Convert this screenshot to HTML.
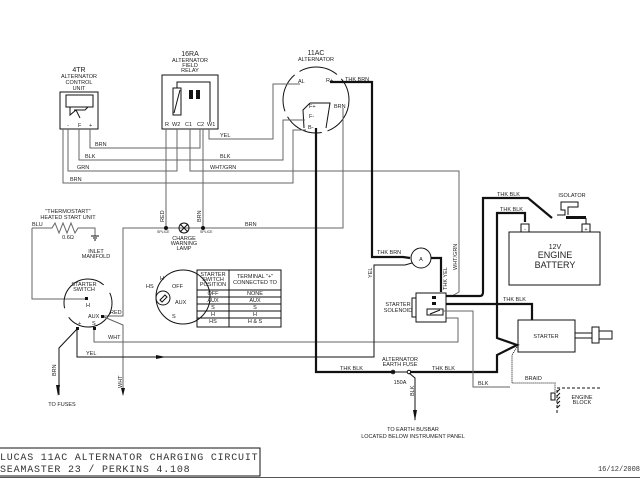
<!DOCTYPE html>
<html><head><meta charset="utf-8"><style>
html,body{margin:0;padding:0;background:#fff}
svg{display:block}
text{font-family:"Liberation Sans",sans-serif;fill:#222}
.t{stroke:#666;stroke-width:1;fill:none}
.k{stroke:#111;stroke-width:2.2;fill:none}
.b{stroke:#111;stroke-width:1;fill:none}
.m{font-family:"Liberation Mono",monospace;fill:#333}
</style></head><body>
<svg width="640" height="480" viewBox="0 0 640 480" font-size="5.5">
<rect width="640" height="480" fill="#fff"/>
<!-- 4TR -->
<text x="79" y="72" text-anchor="middle" font-size="7">4TR</text>
<text x="79" y="78" text-anchor="middle">ALTERNATOR</text>
<text x="79" y="84" text-anchor="middle">CONTROL</text>
<text x="79" y="90" text-anchor="middle">UNIT</text>
<rect x="60" y="92" width="38" height="37" class="b" stroke-width="1.5"/>
<rect x="66" y="95" width="27" height="12" class="b"/>
<path d="M70 107 L70 115 L76 110 L80 118 M74 110 L85 110 L88 107" class="b"/>
<text x="67" y="127">-</text><text x="78" y="127">F</text><text x="89" y="127">+</text>
<!-- 16RA -->
<text x="190" y="56" text-anchor="middle" font-size="7">16RA</text>
<text x="190" y="62" text-anchor="middle">ALTERNATOR</text>
<text x="190" y="67" text-anchor="middle">FIELD</text>
<text x="190" y="72" text-anchor="middle">RELAY</text>
<rect x="162" y="75" width="56" height="54" class="b" stroke-width="1.5"/>
<rect x="173" y="88" width="8" height="27" class="b"/><path d="M174 113 L180 90" class="b"/>
<rect x="189" y="90" width="4" height="9" fill="#111"/><rect x="196" y="90" width="4" height="9" fill="#111"/>
<path d="M177 88 L177 82 L210 82 L210 122" class="b"/>
<text x="165" y="126">R</text><text x="172" y="126">W2</text><text x="185" y="126">C1</text><text x="197" y="126">C2</text><text x="207" y="126">W1</text>
<!-- Alternator -->
<text x="316" y="55" text-anchor="middle" font-size="7">11AC</text>
<text x="316" y="61" text-anchor="middle">ALTERNATOR</text>
<circle cx="316" cy="100" r="33" class="b" stroke-width="1.5" stroke-dasharray="40 6"/>
<text x="298" y="83">AL</text><text x="326" y="82">R+</text>
<path d="M310 103 L303 110 L304 128 M310 103 L330 103 L326 128" class="b"/>
<text x="309" y="108">F+</text><text x="309" y="118">F-</text><text x="308" y="129">B-</text>
<text x="334" y="108">BRN</text>
<text x="345" y="81">THK BRN</text>
<!-- thin wires -->
<path class="t" d="M90 129 V148 H200 V129"/>
<text x="95" y="146">BRN</text>
<path class="t" d="M79 129 V160 H283 V120 H305"/>
<text x="85" y="158">BLK</text><text x="220" y="158">BLK</text>
<path class="t" d="M68 129 V171 H177 V129"/>
<text x="77" y="169">GRN</text>
<path class="t" d="M63 129 V183 H293 V130 H306"/>
<text x="70" y="181">BRN</text>
<path class="t" d="M209 129 V139 H273 V84 H300"/>
<text x="220" y="137">YEL</text>
<path class="t" d="M190 129 V171 H459 V292 L452 296"/>
<text x="210" y="169">WHT/GRN</text>
<path class="t" d="M343 108 V228 H123 V316 H103"/>
<text x="245" y="226">BRN</text>
<path class="t" d="M166 129 V228 M203 129 V228"/>
<circle cx="166" cy="228" r="2" fill="#111"/><circle cx="203" cy="228" r="2" fill="#111"/>
<text x="157" y="233" font-size="3.5">SPLICE</text><text x="200" y="233" font-size="3.5">SPLICE</text>
<text transform="translate(164,222) rotate(-90)">RED</text>
<text transform="translate(201,222) rotate(-90)">BRN</text>
<circle cx="184" cy="228" r="5" class="b" fill="#fff"/><path d="M180 224 L188 232 M188 224 L180 232" class="b"/>
<text x="184" y="240" text-anchor="middle">CHARGE</text>
<text x="184" y="245" text-anchor="middle">WARNING</text>
<text x="184" y="250" text-anchor="middle">LAMP</text>
<!-- thermostart -->
<text x="68" y="213" text-anchor="middle">"THERMOSTART"</text>
<text x="68" y="219" text-anchor="middle">HEATED START UNIT</text>
<text x="32" y="226">BLU</text>
<path class="t" stroke="#333" d="M32 228 V299 H86 M32 228 H52 L55 223 L59 233 L63 223 L67 233 L71 223 L75 233 L78 228 H95 V236"/>
<path class="b" d="M91 236 H99 M93 238 H97 M94 240 H96"/>
<text x="68" y="239" text-anchor="middle">0.6Ω</text>
<text x="96" y="253" text-anchor="middle">INLET</text>
<text x="96" y="258" text-anchor="middle">MANIFOLD</text>
<!-- starter switch -->
<text x="84" y="286" text-anchor="middle">STARTER</text>
<text x="84" y="291" text-anchor="middle">SWITCH</text>
<circle cx="88" cy="303" r="24" class="b" stroke-dasharray="60 10"/>
<rect x="85" y="297" width="3" height="3" fill="#111"/><text x="86" y="307">H</text>
<rect x="101" y="315" width="3" height="3" fill="#111"/><text x="88" y="318">AUX</text>
<rect x="76" y="327" width="3" height="3" fill="#111"/><text x="78" y="325">+</text>
<rect x="93" y="327" width="3" height="3" fill="#111"/><text x="92" y="325">S</text>
<text x="110" y="314">RED</text>
<path class="t" d="M104 317 L123 325 V395"/>
<path d="M121 388 L123 396 L125 388 Z" fill="#111"/>
<text transform="translate(122,388) rotate(-90)">WHT</text>
<path class="t" d="M94 330 V342 H458 V318 H446"/>
<text x="108" y="339">WHT</text>
<path class="b" d="M77 329 L59 348 V395"/>
<path d="M56 385 L58 396 L60 385 Z" fill="#111"/>
<text transform="translate(56,376) rotate(-90)">BRN</text>
<text x="62" y="406" text-anchor="middle">TO FUSES</text>
<!-- key switch -->
<circle cx="183" cy="297" r="27" class="b"/>
<circle cx="163" cy="298" r="7" class="b"/><path d="M160 300 L165 295 L167 297 L162 302Z" class="b"/>
<text x="146" y="288">HS</text><text x="160" y="280">H</text><text x="172" y="288">OFF</text><text x="175" y="304">AUX</text><text x="172" y="318">S</text>
<!-- table -->
<rect x="197" y="270" width="84" height="57" class="b"/>
<path class="b" d="M229 270 V327 M197 290 H281 M197 297 H281 M197 304 H281 M197 311 H281 M197 318 H281"/>
<text x="213" y="276" text-anchor="middle">STARTER</text><text x="213" y="281" text-anchor="middle">SWITCH</text><text x="213" y="286" text-anchor="middle">POSITION</text>
<text x="255" y="278" text-anchor="middle">TERMINAL "+"</text><text x="255" y="284" text-anchor="middle">CONNECTED TO</text>
<text x="213" y="295" text-anchor="middle">OFF</text><text x="255" y="295" text-anchor="middle">NONE</text>
<text x="213" y="302" text-anchor="middle">AUX</text><text x="255" y="302" text-anchor="middle">AUX</text>
<text x="213" y="309" text-anchor="middle">S</text><text x="255" y="309" text-anchor="middle">S</text>
<text x="213" y="316" text-anchor="middle">H</text><text x="255" y="316" text-anchor="middle">H</text>
<text x="213" y="323" text-anchor="middle">HS</text><text x="255" y="323" text-anchor="middle">H &amp; S</text>
<!-- thick wires -->
<path class="k" d="M330 82 H372 V257 H403 L410 258"/>
<text x="377" y="254">THK BRN</text>
<circle cx="421" cy="258" r="10" class="b" stroke-width="1.5" fill="#fff"/><text x="421" y="261" text-anchor="middle">A</text>
<path class="k" d="M431 258 H441 V292"/>
<text transform="translate(447,290) rotate(-90)">THK YEL</text>
<text transform="translate(457,270) rotate(-90)">WHT/GRN</text>
<path class="b" stroke-width="1.5" d="M412 263 L405 265 H374 V357 H77 V330"/>
<text transform="translate(372,278) rotate(-90)">YEL</text>
<text x="86" y="355">YEL</text>
<path d="M156 355 L166 357 L156 359Z" fill="#111"/>
<path class="k" d="M316 128 V372 H395 M410 372 H497 V355 L517 345 L497 338 V213 H525 V222"/>
<text x="340" y="370">THK BLK</text><text x="432" y="370">THK BLK</text>
<text x="500" y="211">THK BLK</text>
<path class="k" d="M446 304 H532 V320"/>
<text x="503" y="301">THK BLK</text>
<!-- fuse -->
<circle cx="393" cy="372" r="1.8" class="b" fill="#fff"/><circle cx="409" cy="372" r="1.8" class="b" fill="#fff"/>
<path class="b" d="M395 372 L407 372"/>
<path class="b" d="M409 373 L415 378 V420"/>
<path d="M413 410 L415 421 L417 410Z" fill="#111"/>
<text transform="translate(414,396) rotate(-90)">BLK</text>
<text x="400" y="361" text-anchor="middle">ALTERNATOR</text><text x="400" y="366" text-anchor="middle">EARTH FUSE</text>
<text x="400" y="384" text-anchor="middle">150A</text>
<text x="413" y="431" text-anchor="middle">TO EARTH BUSBAR</text>
<text x="413" y="438" text-anchor="middle">LOCATED BELOW INSTRUMENT PANEL</text>
<!-- solenoid -->
<rect x="416" y="293" width="30" height="29" class="b" stroke-width="1.5"/>
<rect x="412" y="298" width="4" height="19" class="b"/>
<rect x="432" y="296" width="4" height="3" fill="#111"/><rect x="432" y="302" width="4" height="3" fill="#111"/>
<rect x="427" y="309" width="16" height="6" class="b"/><path class="b" d="M430 314 L440 310"/>
<text x="398" y="306" text-anchor="middle">STARTER</text><text x="398" y="312" text-anchor="middle">SOLENOID</text>
<path class="t" d="M443 311 H473 V387 H510"/>
<text x="478" y="385">BLK</text>
<!-- starter -->
<rect x="518" y="320" width="57" height="32" class="b" stroke-width="1.5"/>
<text x="546" y="338" text-anchor="middle">STARTER</text>
<path class="b" d="M575 333 H592 M575 338 H592"/>
<rect x="592" y="327" width="7" height="16" class="b"/><rect x="599" y="331" width="13" height="8" class="b"/>
<path class="b" stroke-width="3" stroke="#444" stroke-dasharray="1 1" d="M517 347 L512 355 V383 H555 V397"/>
<text x="525" y="380">BRAID</text>
<path class="b" d="M557 390 V413 M557 388 H600" stroke-dasharray="3 2"/>
<path class="b" stroke="#888" d="M557 392 l3 -3 M557 396 l3 -3 M557 400 l3 -3 M557 404 l3 -3 M557 408 l3 -3"/>
<rect x="551" y="393" width="4" height="7" class="b"/>
<text x="582" y="399" text-anchor="middle">ENGINE</text><text x="582" y="404" text-anchor="middle">BLOCK</text>
<!-- battery -->
<rect x="509" y="232" width="91" height="53" class="b" stroke-width="1.5"/>
<path class="b" d="M521 232 V224 H529 V232 M582 232 V224 H590 V232"/>
<text x="525" y="231" text-anchor="middle">-</text><text x="586" y="231" text-anchor="middle">+</text>
<text x="555" y="249" text-anchor="middle" font-size="7">12V</text>
<text x="555" y="258" text-anchor="middle" font-size="9">ENGINE</text>
<text x="555" y="268" text-anchor="middle" font-size="9">BATTERY</text>
<path class="k" d="M446 296 H480 Q483 296 483 292 V198 H528 L552 218"/>
<text x="497" y="196">THK BLK</text>
<rect x="566" y="216" width="20" height="3" fill="#111"/><path class="b" d="M586 218 V224"/>
<path class="b" d="M557 215 H565 V210 H561 V202 H578 V207 H568 V215"/>
<text x="572" y="197" text-anchor="middle">ISOLATOR</text>
<!-- title -->
<rect x="-1" y="448" width="261" height="28" class="b"/>
<text x="0" y="460" class="m" font-size="10" letter-spacing="0.8">LUCAS 11AC ALTERNATOR CHARGING CIRCUIT</text>
<text x="0" y="472" class="m" font-size="10" letter-spacing="0.8">SEAMASTER 23 / PERKINS 4.108</text>
<path d="M0 477.5 H640" stroke="#555" stroke-width="1"/>
<text x="640" y="471" text-anchor="end" class="m" font-size="7">16/12/2008</text>
</svg>
</body></html>
